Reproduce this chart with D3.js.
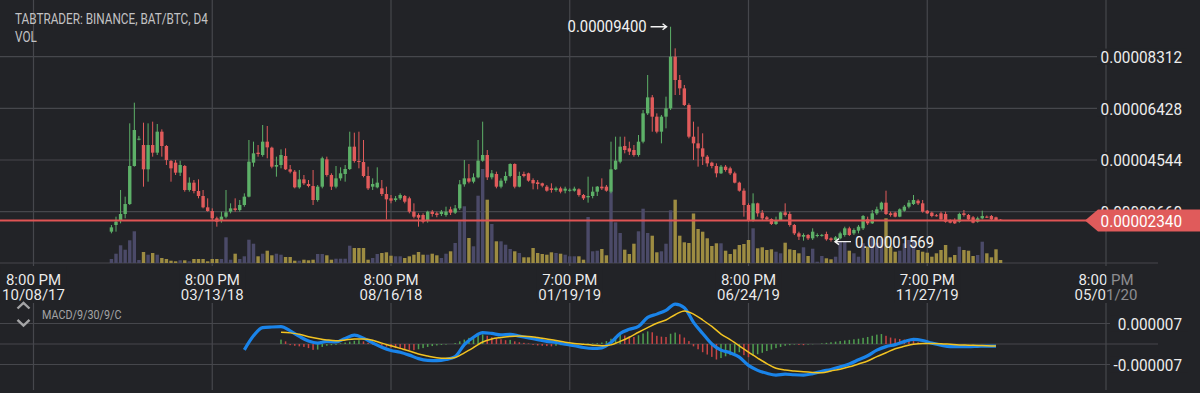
<!DOCTYPE html>
<html>
<head>
<meta charset="utf-8">
<script src="https://cdn.jsdelivr.net/npm/d3@7"></script>
<style>
  html, body { margin: 0; padding: 0; background: #222327; }
  svg { display: block; font-family: Roboto, "Noto Sans", sans-serif; }
</style>
</head>
<body>
<div id="chart"></div>
<script>
// BAT/BTC, 4 day candles. prices in satoshi (1e-8 BTC), candle index 0 = 10/08/17
var firstIndex = 17;
var opens = [
  1933,2175,2333,2576,2940,4325,5300,5090,4204,5090,
  4811,5576,5054,4507,4447,4082,4325,3451,3718,3414,
  3232,2819,2685,2418,2333,2479,2661,2782,2722,2904,
  3208,4447,4811,4726,5212,4993,4301,4362,4690,4204,
  4119,3548,3839,3669,3596,3086,3572,4568,3997,3572,
  3876,4034,4216,5030,4507,4470,3961,3572,3548,3511,
  3305,3147,3086,3147,3232,3147,2661,2540,2540,2357,
  2661,2600,2576,2540,2746,2625,2782,3657,3876,3754,
  3912,4519,4726,3912,4034,3572,3791,3961,4398,3572,
  4034,4058,3815,3730,3694,3572,3511,3451,3511,3426,
  3451,3426,3475,3268,3183,3232,3390,3572,3572,3390,
  4204,4483,5054,4969,4908,4726,5212,6244,6827,6123,
  5576,6123,6427,8309,7459,7155,6548,5394,5151,4969,
  4665,4447,4325,4058,4301,4240,4058,3718,3426,2904,
  2357,2965,2625,2455,2394,2212,2357,2637,2576,2175,
  1871,1750,1811,1689,1774,1790,1847,1689,1629,1689,
  1811,2054,1871,1969,2054,2382,2236,2600,2746,2989,
  2600,2625,2479,2697,2843,2940,3062,2965,2697,2625,
  2530,2600,2576,2357,2357,2297,2600,2540,2455,2297,
  2418,2479,2503,2455,2370];
var highs = [
  2175,2479,3451,3208,5880,6633,5420,5904,5880,5941,
  5856,5661,5090,4544,4544,4519,4362,3912,3815,3839,
  3451,3147,2782,2479,2661,3451,2965,3147,3086,3329,
  5273,5212,5090,5819,5783,5030,4665,4932,4969,4362,
  4179,4179,3997,3815,4179,3633,4665,4665,4058,4325,
  4277,4362,5576,5540,5576,5273,4301,3876,4277,3815,
  3572,3268,3232,3329,3268,3208,2965,2600,2600,2697,
  2722,2661,2722,2843,2843,2904,3815,4544,4398,4058,
  5273,5941,4908,4179,4119,3876,4119,4422,4422,4119,
  4119,4082,3876,3815,3718,3633,3694,3572,3572,3572,
  3511,3572,3511,3305,3936,3572,3596,3876,3633,5212,
  5394,5394,5394,5212,5090,5455,6366,7641,6912,6244,
  6184,6852,9400,8613,7641,7277,6609,5941,5758,5516,
  4726,4483,4422,4362,4362,4301,4119,3754,3511,2965,
  3329,2989,2722,2503,2418,2479,2661,2965,2661,2212,
  1932,1871,1847,2054,1871,1850,1932,1726,1774,1932,
  2114,2114,2054,2175,2540,2479,2722,2843,3025,3426,
  2661,2661,2782,2904,3086,3268,3110,3086,2722,2661,
  2576,2661,2661,2382,2418,2625,2722,2576,2503,2479,
  2697,2520,2540,2479,2390];
var lows = [
  1872,1933,2236,2418,2904,4301,5260,3572,3754,4665,
  4726,4665,4362,3754,3997,3961,3390,3390,3329,3147,
  2782,2661,2357,2114,2260,2418,2600,2661,2661,2843,
  3183,4301,4665,4665,4605,4240,3936,4240,4179,4058,
  3511,3499,3633,3548,2904,3025,3511,3936,3451,3511,
  3791,3754,4179,4447,4240,3912,3451,3451,3511,3232,
  2382,2965,3025,3086,2965,2600,2418,2114,2236,2260,
  2479,2455,2503,2479,2540,2576,2722,3572,3694,3694,
  3876,4480,3815,3839,3511,3511,3694,3912,3511,3548,
  3912,3754,3475,3475,3548,3390,3353,3390,3329,3329,
  3390,3390,3208,3086,2989,3147,3232,3451,3390,3329,
  4180,4422,4787,4726,4665,4665,5151,6184,5576,5516,
  5151,5698,6366,6912,6912,6512,5333,4544,4301,4362,
  4301,4240,3912,4033,4119,3997,3693,3390,2479,2297,
  2297,2479,2357,2357,2175,2175,2333,2479,2114,1811,
  1629,1604,1629,1629,1726,1750,1604,1569,1590,1653,
  1750,1774,1811,1871,1993,2175,2212,2540,2697,2540,
  2479,2455,2460,2661,2782,2904,2904,2625,2576,2455,
  2479,2333,2260,2236,2212,2260,2479,2357,2236,2260,
  2382,2430,2357,2333,2320];
var closes = [
  2090,2297,2576,2940,4325,5637,5320,4204,5090,4811,
  5576,5054,4544,4240,4082,4362,3451,3718,3414,3232,
  2819,2685,2418,2297,2479,2637,2782,2722,2904,3208,
  4483,4787,4762,5212,5005,4301,4362,4726,4204,4119,
  3548,3839,3694,3596,3086,3572,4605,3997,3572,3876,
  4058,4216,5030,4507,4470,3961,3511,3669,3718,3305,
  3110,3062,3147,3268,3025,2661,2479,2443,2297,2661,
  2576,2540,2661,2661,2625,2782,3657,3876,3754,3912,
  4519,4726,3912,4058,3572,3791,3961,4398,3572,3961,
  3961,3791,3694,3669,3609,3426,3451,3511,3390,3499,
  3460,3499,3268,3147,3232,3390,3572,3511,3426,4204,
  4520,5030,4908,4847,4726,5212,6244,6827,6123,5576,
  6123,6427,8309,7459,7155,6548,5394,5151,4969,4665,
  4422,4325,4058,4301,4179,4058,3718,3426,2904,2357,
  2965,2600,2418,2382,2212,2357,2637,2540,2175,1871,
  1750,1811,1689,1932,1811,1815,1653,1629,1726,1871,
  2054,1811,1993,2114,2503,2236,2600,2746,2989,2576,
  2540,2479,2746,2843,2989,3086,2965,2661,2600,2503,
  2503,2382,2297,2260,2236,2576,2540,2382,2260,2418,
  2503,2455,2382,2357,2340];
var volumes = [
  4,9.3,17.7,13.3,22.7,31.7,3,11,8.3,10,
  8.3,5,4,2.3,1.7,2.7,2.7,1.7,4,4,
  4,1.7,4,4,4,25.7,3.3,9.3,4,6.7,
  23.3,19.3,6.7,9.3,12.3,7.7,9.3,8.3,6,6,
  2.3,2.3,3.3,2.7,3.3,9,9,7.7,3.3,4.3,
  4.3,4.3,17.3,15,15,15,3.3,5,9,10,
  10.7,7.3,6.7,6.7,5,6.7,8.3,11,8.3,8.3,
  9.3,7.7,5,9.3,11.7,20,41.7,56.7,25,16.7,
  67.3,94,63.3,39,21.7,21.7,18.3,14,11.7,10,
  5.7,5.7,15,10,9,8.3,10.7,10,9.3,8.3,
  6.7,6.7,6.7,3.3,46,11.7,12.3,14,7.7,71.7,
  40.7,30,13.3,9,19.3,31.7,54.3,30,27.3,10.7,
  11.7,19.3,52.7,63.3,27.3,20.7,20,49.5,34,31.3,
  24.7,17,19.7,19.7,12.3,9,13.7,18,19,23,
  34.7,14.7,15.7,13,13.7,11.3,9.7,20.3,13.7,13,
  9.7,15.7,7,14.3,1.3,7,4.7,3.7,6.3,21.3,
  21.3,12.3,9.7,6.3,19.7,16.3,24.7,20.3,24.7,44.7,
  16.3,11.3,12.3,19.7,23,21.3,13,11.3,10.3,6.3,
  9.7,13,18,5.7,8,16.3,13,12.3,7,8,
  21.3,9.7,5.7,13.7,3];

// MACD 9/30/9, in 1e-6 BTC. lines read every 2nd candle, histogram every candle
var macdStart = 46;
var macdValues = [
  -2.0,2.8,5.6,5.8,5.9,4.5,2.6,1.0,0.3,0.9,
  0.7,1.9,3.0,2.0,0.4,-1.1,-2.2,-2.8,-3.8,-5.0,
  -5.6,-5.7,-5.3,-4.3,-0.2,2.3,3.9,3.6,3.1,3.3,
  2.7,2.1,1.5,0.9,0.5,-0.1,-0.6,-1.2,-1.5,-1.3,
  0.5,3.6,5.0,6.0,9.1,10.2,11.5,13.6,12.4,7.4,
  3.6,0.0,-2.1,-3.0,-4.5,-7.3,-9.0,-10.0,-10.6,-10.3,
  -10.5,-10.6,-10.1,-9.3,-8.7,-7.8,-6.8,-5.4,-4.0,-2.1,
  -0.9,-0.2,0.8,1.6,1.2,0.3,-0.4,-0.9,-0.9,-0.9,
  -0.8,-0.7,-0.7];
var signalStart = 54;
var signalValues = [
  4.0,3.8,3.3,2.5,1.9,1.4,1.1,1.4,1.7,1.7,
  1.3,0.3,-0.6,-1.5,-2.4,-3.4,-4.1,-4.7,-4.9,-4.6,
  -3.0,-1.2,0.7,1.7,2.2,2.6,2.7,2.6,2.2,1.7,
  1.2,0.6,0.2,-0.1,-0.4,-0.6,-0.3,0.9,2.3,4.0,
  5.6,7.1,8.2,10.0,11.3,10.2,8.2,6.0,3.4,1.5,
  -0.6,-2.8,-4.8,-6.7,-8.3,-8.9,-9.2,-9.5,-9.7,-9.8,
  -9.2,-8.6,-7.8,-6.8,-5.8,-4.3,-3.0,-1.6,-0.8,-0.1,
  0.2,0.2,0.1,-0.1,-0.3,-0.4,-0.5,-0.6,-0.7];
var histStart = 54;
var histValues = [
  1.5,0.9,-0.4,-0.6,-0.8,-1.0,-1.4,-2.0,-1.9,-1.0,
  -0.6,-0.4,-0.3,0.2,0.5,0.8,1.1,1.3,0.9,0.4,
  -0.2,-0.4,-0.6,-0.9,-1.2,-1.4,-1.6,-1.8,-2.0,-2.1,
  -1.8,-1.4,-1.0,-0.7,-0.5,-0.3,-0.2,0.0,0.3,0.9,
  1.5,2.1,2.6,3.0,3.3,2.8,2.3,2.0,1.6,1.3,
  1.4,0.9,0.6,0.4,0.2,-0.3,-0.5,-0.6,-0.7,-0.8,
  -0.6,-0.4,-0.3,-0.2,-0.1,0.0,0.1,0.15,0.2,0.3,
  0.5,1.0,1.8,2.6,3.2,2.9,2.6,2.4,3.0,3.6,
  4.3,4.0,2.8,2.5,2.4,3.5,3.9,3.3,2.2,1.0,
  -0.8,-1.8,-2.8,-3.6,-4.4,-5.3,-4.8,-4.2,-3.8,-3.2,
  -2.8,-3.8,-4.5,-4.0,-3.5,-3.0,-2.4,-1.9,-1.4,-1.0,
  -0.6,-0.4,-0.2,-0.3,-0.4,-0.2,-0.1,0.0,0.2,0.4,
  0.6,0.8,1.0,1.2,1.4,1.6,1.8,2.1,2.4,2.8,
  3.2,3.4,2.8,2.2,1.9,1.7,1.5,1.2,1.0,0.6,
  0.3,0.1,0.0,-0.1,-0.1,-0.2,-0.2,-0.2,-0.1,-0.1,
  -0.1,-0.1,-0.05,0.0,0.0,0.0,0.0,0.0];

var priceTicks = [2660, 4544, 6428, 8312];
var macdTicks = [-7, 7];
var timeTicks = [0, 39, 78, 117, 156, 195, 234];
var timeLabels = [
  ["8:00 PM", "10/08/17"], ["8:00 PM", "03/13/18"], ["8:00 PM", "08/16/18"],
  ["7:00 PM", "01/19/19"], ["8:00 PM", "06/24/19"], ["7:00 PM", "11/27/19"],
  ["8:00 PM", "05/01/20"]];

var width = 1200, height = 393;
var bg = '#222327', gridc = '#46474c';
var upC = '#5db068', downC = '#e15b5b';
var volUp = '#4b4a68', volDown = '#9d8c42';

var x = d3.scaleLinear().domain([0, 234]).range([33.5, 1106]);
var y = d3.scaleLinear().domain([2660, 8312]).range([211.7, 56.6]);
var yVol = d3.scaleLinear().domain([0, 100]).range([263, 163]);
var yM = d3.scaleLinear().domain([-7, 7]).range([364.5, 323.5]);

var svg = d3.select('#chart').append('svg')
    .attr('width', width)
    .attr('height', height);

svg.append('rect').attr('width', width).attr('height', height).attr('fill', bg);

function squeeze(sel, k) {
    sel.each(function() {
        var w = this.getComputedTextLength();
        d3.select(this).attr('textLength', w * k).attr('lengthAdjust', 'spacingAndGlyphs');
    });
}

// grid
var grid = svg.append('g').attr('stroke', gridc).attr('stroke-width', 1.2);
grid.selectAll('.vg').data(timeTicks).enter().append('line')
    .attr('x1', function(d) { return x(d); }).attr('x2', function(d) { return x(d); })
    .attr('y1', 0).attr('y2', 390);
grid.selectAll('.hg').data(priceTicks).enter().append('line')
    .attr('x1', 0).attr('x2', 1158)
    .attr('y1', function(d) { return y(d); }).attr('y2', function(d) { return y(d); });
grid.append('line').attr('x1', 0).attr('x2', 1158).attr('y1', 263).attr('y2', 263);
grid.selectAll('.mg').data([-7, 0, 7]).enter().append('line')
    .attr('x1', 0).attr('x2', 1158)
    .attr('y1', function(d) { return yM(d); }).attr('y2', function(d) { return yM(d); });

var candles = opens.map(function(o, k) {
    return {i: firstIndex + k, o: o, h: highs[k], l: lows[k], c: closes[k], v: volumes[k]};
});

// volume
svg.append('g').selectAll('rect').data(candles).enter().append('rect')
    .attr('x', function(d) { return x(d.i) - 1.7; })
    .attr('width', 3.4)
    .attr('y', function(d) { return yVol(d.v); })
    .attr('height', function(d) { return yVol(0) - yVol(d.v); })
    .attr('fill', function(d) { return d.c >= d.o ? volUp : volDown; });

// candles
var cg = svg.append('g');
cg.selectAll('line').data(candles).enter().append('line')
    .attr('x1', function(d) { return x(d.i); }).attr('x2', function(d) { return x(d.i); })
    .attr('y1', function(d) { return y(d.h); }).attr('y2', function(d) { return y(d.l); })
    .attr('stroke', function(d) { return d.c >= d.o ? upC : downC; })
    .attr('stroke-width', 1);
cg.selectAll('rect').data(candles).enter().append('rect')
    .attr('x', function(d) { return x(d.i) - 1.7; })
    .attr('width', 3.4)
    .attr('y', function(d) { return y(Math.max(d.o, d.c)); })
    .attr('height', function(d) { return Math.max(1, Math.abs(y(d.o) - y(d.c))); })
    .attr('fill', function(d) { return d.c >= d.o ? upC : downC; });

// macd histogram
svg.append('g').selectAll('rect').data(histValues).enter().append('rect')
    .attr('x', function(d, k) { return x(histStart + k) - 0.75; })
    .attr('width', 1.5)
    .attr('y', function(d) { return Math.min(yM(d), yM(0)); })
    .attr('height', function(d) { return Math.abs(yM(d) - yM(0)); })
    .attr('fill', function(d, k) { return (k == 0 || d >= histValues[k - 1]) ? '#4f9e4f' : '#c64444'; });

var macdLine = d3.line().curve(d3.curveMonotoneX)
    .x(function(d, k) { return x(macdStart + 2 * k); })
    .y(function(d) { return yM(d); });
var sigLine = d3.line().curve(d3.curveMonotoneX)
    .x(function(d, k) { return x(signalStart + 2 * k); })
    .y(function(d) { return yM(d); });
svg.append('path').datum(macdValues).attr('d', macdLine)
    .attr('fill', 'none').attr('stroke', '#1a84ea').attr('stroke-width', 3.2)
    .attr('stroke-linejoin', 'round');
svg.append('path').datum(signalValues).attr('d', sigLine)
    .attr('fill', 'none').attr('stroke', '#f2c322').attr('stroke-width', 1.5);

// price axis labels
var pl = svg.append('g');
pl.selectAll('rect').data(priceTicks).enter().append('rect')
    .attr('x', 1097).attr('width', 90)
    .attr('y', function(d) { return y(d) - 8; }).attr('height', 16)
    .attr('fill', bg);
pl.selectAll('text').data(priceTicks).enter().append('text')
    .attr('x', 1182).attr('y', function(d) { return y(d) + 6.2; })
    .attr('text-anchor', 'end')
    .attr('fill', '#ececec').style('font-size', '17px')
    .text(function(d) { return (d / 1e8).toFixed(8); })
    .call(squeeze, 0.9);

var ml = svg.append('g');
ml.selectAll('rect').data(macdTicks).enter().append('rect')
    .attr('x', 1110).attr('width', 78)
    .attr('y', function(d) { return yM(d) - 8; }).attr('height', 16)
    .attr('fill', bg);
ml.selectAll('text').data(macdTicks).enter().append('text')
    .attr('x', 1182).attr('y', function(d) { return yM(d) + 6.2; })
    .attr('text-anchor', 'end')
    .attr('fill', '#ececec').style('font-size', '17px')
    .text(function(d) { return (d / 1e6).toFixed(6); })
    .call(squeeze, 0.9);

// time labels, text fades to grey past the last grid line
var fade = svg.append('defs').append('linearGradient').attr('id', 'fade')
    .attr('gradientUnits', 'userSpaceOnUse')
    .attr('x1', 0).attr('x2', width).attr('y1', 0).attr('y2', 0);
var cut = x(234) / width;
fade.append('stop').attr('offset', cut).attr('stop-color', '#ececec');
fade.append('stop').attr('offset', cut).attr('stop-color', '#8d8d90');

var tl = svg.append('g');
tl.selectAll('rect').data(timeTicks).enter().append('rect')
    .attr('x', function(d) { return x(d) - 33; }).attr('width', 66)
    .attr('y', 266).attr('height', 37).attr('fill', bg);
var tt = tl.selectAll('text').data(timeTicks).enter().append('text')
    .attr('text-anchor', 'middle').attr('fill', 'url(#fade)').style('font-size', '15px');
tt.append('tspan').attr('x', function(d) { return x(d); }).attr('y', 285)
    .text(function(d, k) { return timeLabels[k][0]; });
tt.append('tspan').attr('x', function(d) { return x(d); }).attr('y', 300)
    .text(function(d, k) { return timeLabels[k][1]; });

// last price line and tag
var last = closes[closes.length - 1];
var ly = y(last);
svg.append('line').attr('x1', 0).attr('x2', 1090).attr('y1', ly).attr('y2', ly)
    .attr('stroke', '#df5454').attr('stroke-width', 2);
svg.append('path')
    .attr('d', 'M1085,' + ly + 'L1098,' + (ly - 11) + 'L1200,' + (ly - 11) + 'L1200,' + (ly + 11) + 'L1098,' + (ly + 11) + 'Z')
    .attr('fill', '#e05b5b');
svg.append('text').attr('x', 1182).attr('y', ly + 6.2).attr('text-anchor', 'end')
    .attr('fill', '#ffffff').style('font-size', '17px')
    .text((last / 1e8).toFixed(8))
    .call(squeeze, 0.9);

// high / low annotations
var hiIdx = d3.maxIndex(highs), loIdx = d3.minIndex(lows);
var hx = x(firstIndex + hiIdx), hy = y(highs[hiIdx]);
var lx = x(firstIndex + loIdx), lyy = y(lows[loIdx]);
var ann = svg.append('g').attr('fill', '#f2f2f2').style('font-size', '16.5px');
ann.append('text').attr('x', hx - 24).attr('y', hy + 5.2).attr('text-anchor', 'end')
    .text((highs[hiIdx] / 1e8).toFixed(8)).call(squeeze, 0.9);
ann.append('path')
    .attr('d', 'M' + (hx - 20) + ',' + hy + 'H' + (hx - 4) + 'M' + (hx - 8) + ',' + (hy - 3) + 'L' + (hx - 4) + ',' + hy + 'L' + (hx - 8) + ',' + (hy + 3))
    .attr('stroke', '#f2f2f2').attr('stroke-width', 1.4).attr('fill', 'none');
ann.append('text').attr('x', lx + 24).attr('y', lyy + 6).attr('text-anchor', 'start')
    .text((lows[loIdx] / 1e8).toFixed(8)).call(squeeze, 0.9);
ann.append('path')
    .attr('d', 'M' + (lx + 20) + ',' + lyy + 'H' + (lx + 4) + 'M' + (lx + 8) + ',' + (lyy - 3) + 'L' + (lx + 4) + ',' + lyy + 'L' + (lx + 8) + ',' + (lyy + 3))
    .attr('stroke', '#f2f2f2').attr('stroke-width', 1.4).attr('fill', 'none');

// titles
svg.append('text').attr('x', 15).attr('y', 24.3).attr('fill', '#c2c2c4').style('font-size', '14px')
    .text('TABTRADER: BINANCE, BAT/BTC, D4').call(squeeze, 0.84);
svg.append('text').attr('x', 15).attr('y', 41.7).attr('fill', '#c2c2c4').style('font-size', '14px')
    .text('VOL').call(squeeze, 0.84);
svg.append('text').attr('x', 42).attr('y', 319.3).attr('fill', '#a4a4a6').style('font-size', '12.5px')
    .text('MACD/9/30/9/C').call(squeeze, 0.86);

// collapse chevrons
svg.append('path').attr('d', 'M17.5,308.5L23.5,302.8L29.5,308.5')
    .attr('fill', 'none').attr('stroke', '#a4a4a6').attr('stroke-width', 2.4);
svg.append('path').attr('d', 'M17.5,319.8L23.5,325.6L29.5,319.8')
    .attr('fill', 'none').attr('stroke', '#a4a4a6').attr('stroke-width', 2.4);
</script>
</body>
</html>
